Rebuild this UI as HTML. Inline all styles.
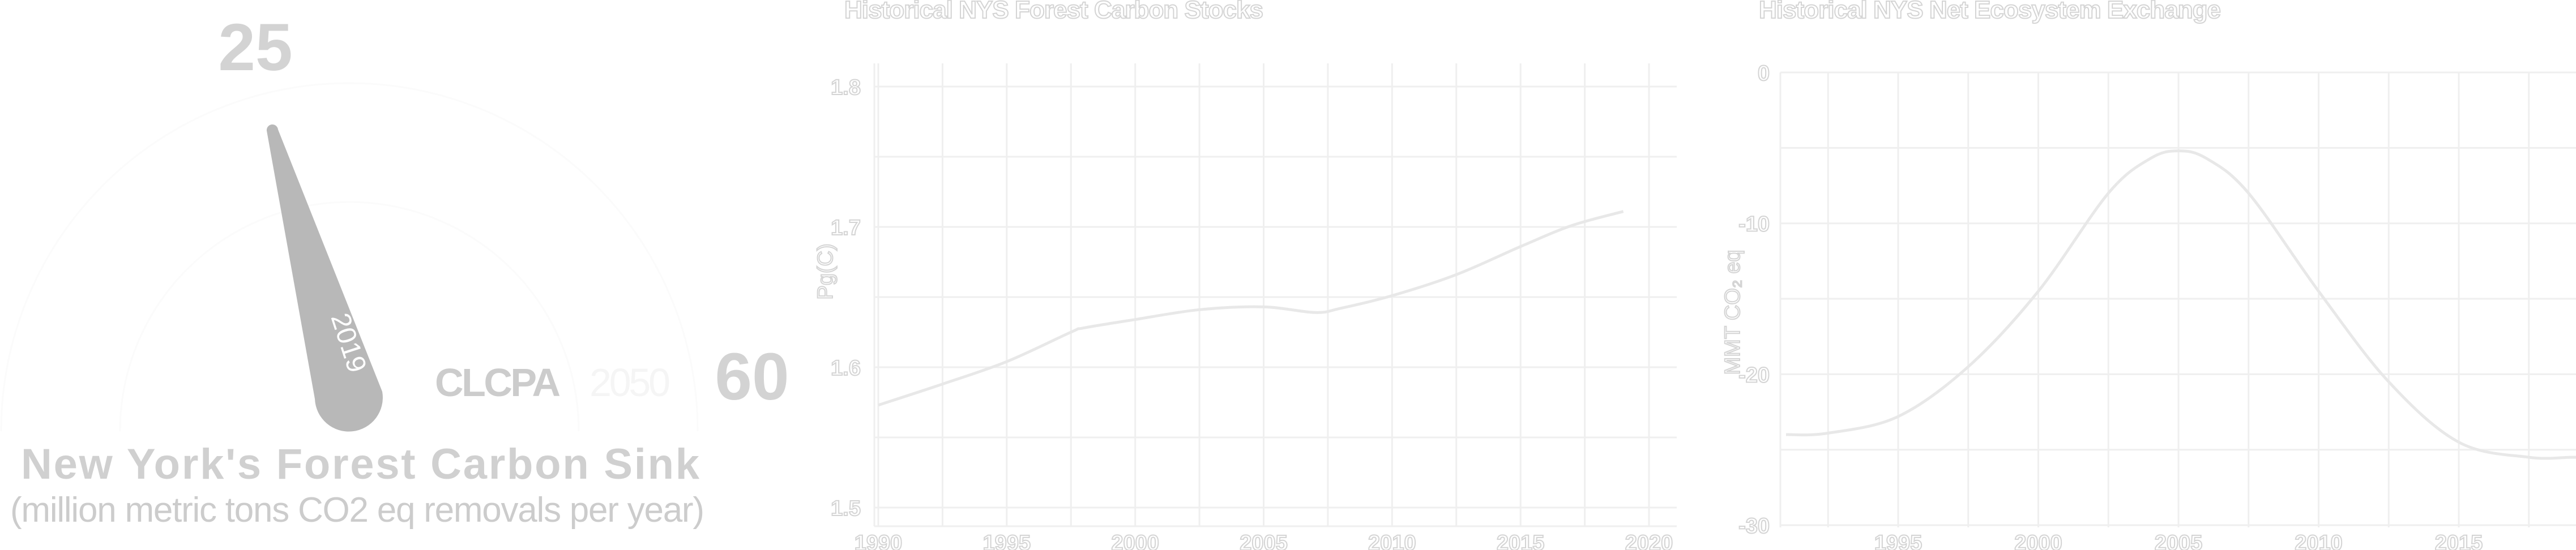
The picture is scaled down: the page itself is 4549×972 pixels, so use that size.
<!DOCTYPE html>
<html><head><meta charset="utf-8"><style>
html,body{margin:0;padding:0;background:#fff;}
svg{display:block;font-family:"Liberation Sans",sans-serif;}
.ol{fill:#fff;stroke:#d4d4d4;stroke-width:2;font-weight:bold;}
.g{stroke:#efefef;stroke-width:3;fill:none;}
.ln{stroke:#e8e8e8;stroke-width:5;fill:none;}
</style></head><body>
<svg id="root" width="4549" height="972" viewBox="0 0 4549 972">
<g>
  <path d="M2 762 A615 615 0 0 1 1232 762" stroke="#fbfbfb" stroke-width="3" fill="none"/>
  <path d="M212 762 A405 405 0 0 1 1022 762" stroke="#fbfbfb" stroke-width="3" fill="none"/>
  <text x="451" y="124" font-size="118" font-weight="bold" fill="#d3d3d3" text-anchor="middle">25</text>
  <text x="1328" y="706" font-size="118" font-weight="bold" fill="#d3d3d3" text-anchor="middle">60</text>
  <text x="768" y="700" font-size="70" font-weight="bold" fill="#cccccc" textLength="222">CLCPA</text>
  <text x="1041" y="700" font-size="70" fill="#f5f5f5" textLength="143">2050</text>
  <path id="needle" d="M471 231 A10 10 0 0 1 491 229 L675 692 A60 60 0 1 1 556 705 Z" fill="#b8b8b8"/>
  <text x="0" y="0" font-size="48" fill="#fff" transform="translate(584,560) rotate(72)">2019</text>
  <text x="636" y="846" font-size="76" font-weight="bold" fill="#d0d0d0" text-anchor="middle" textLength="1198">New York's Forest Carbon Sink</text>
  <text x="631" y="922" font-size="62" fill="#cccccc" text-anchor="middle" textLength="1226">(million metric tons CO2 eq removals per year)</text>
</g>
<g id="c1"></g>
<g id="c2"></g>
</svg>
<script>
// Chart 1 data
const stockYears = [1990,1992.5,1995,1997.5,1998,2000,2002.5,2005,2007,2008,2010,2012.5,2015,2017,2019];
const stockValues = [1.573,1.588,1.604,1.625,1.628,1.634,1.641,1.643,1.639,1.642,1.651,1.666,1.686,1.701,1.711];
const stockYTicks = [1.5,1.6,1.7,1.8];
const stockXTicks = [1990,1995,2000,2005,2010,2015,2020];
// Chart 2 data
const neeYears = [1991,1992.5,1995,1997.5,2000,2002.5,2004,2005,2006,2007.5,2010,2012.5,2015,2017.5,2019,2019.5];
const neeValues = [-24,-23.9,-22.8,-19.5,-14.5,-8,-5.7,-5.2,-5.7,-8,-14.5,-20.5,-24.5,-25.5,-25.5,-25.5];
const neeYTicks = [0,-10,-20,-30];
const neeXTicks = [1995,2000,2005,2010,2015];

const NS='http://www.w3.org/2000/svg';
function mk(parent,tag,attrs){const e=document.createElementNS(NS,tag);for(const k in attrs)e.setAttribute(k,attrs[k]);parent.appendChild(e);return e;}
function smooth(pts){let d='M'+pts[0][0]+','+pts[0][1];
  for(let i=0;i<pts.length-1;i++){const p0=pts[i-1]||pts[i],p1=pts[i],p2=pts[i+1],p3=pts[i+2]||p2;
    const c1=[p1[0]+(p2[0]-p0[0])/6,p1[1]+(p2[1]-p0[1])/6],c2=[p2[0]-(p3[0]-p1[0])/6,p2[1]-(p3[1]-p1[1])/6];
    d+=' C'+c1+' '+c2+' '+p2;}
  return d;}

// ---- chart 1
(function(){
  const g=document.getElementById('c1');
  const x=v=>1551+(v-1990)*(2912-1551)/30;
  const y=v=>897-(v-1.5)*2480;
  const L=1544,R=2961,T=112,B=930;
  const t=mk(g,'text',{x:1491,y:32,'font-size':44,class:'ol',textLength:740});
  t.textContent='Historical NYS Forest Carbon Stocks';
  
  
  for(let v=1990;v<=2020.01;v+=2.5){const l=mk(g,'line',{x1:x(v),x2:x(v),y1:T,y2:B,class:'g'});
    
    }
  for(let v=1.5;v<=1.801;v+=0.05){const l=mk(g,'line',{x1:L,x2:R,y1:y(v),y2:y(v),class:'g'});
    
    }
  mk(g,'line',{x1:L,x2:R,y1:B,y2:B,class:'g'});
  mk(g,'line',{x1:L,x2:L,y1:T,y2:B,class:'g'});
  stockYTicks.forEach(v=>{const e=mk(g,'text',{x:1520,y:y(v)+14,'font-size':38,class:'ol','text-anchor':'end'});e.textContent=v.toFixed(1);
    
    });
  stockXTicks.forEach(v=>{const e=mk(g,'text',{x:x(v),y:972,'font-size':38,class:'ol','text-anchor':'middle'});e.textContent=v;
    
    });
  const yt=mk(g,'text',{x:0,y:0,'font-size':38,fill:'#fff',stroke:'#d4d4d4','stroke-width':2,'text-anchor':'middle',transform:'translate(1470,480) rotate(-90)'});
  yt.textContent='Pg(C)';
  
  
  const p=mk(g,'path',{d:smooth(stockYears.map((v,i)=>[x(v),y(stockValues[i])])),class:'ln'});
  
  
})();

// ---- chart 2
(function(){
  const g=document.getElementById('c2');
  const x=v=>3352+(v-1995)*49.5;
  const y=v=>128-v*26.67;
  const L=3144,R=4549,T=128,B=932;
  const t=mk(g,'text',{x:3106,y:32,'font-size':44,class:'ol',textLength:816});
  t.textContent='Historical NYS Net Ecosystem Exchange';
  
  
  for(let v=1992.5;x(v)<=R;v+=2.5){const l=mk(g,'line',{x1:x(v),x2:x(v),y1:T,y2:B,class:'g'});
    
    }
  for(let v=0;v>=-30;v-=5){const l=mk(g,'line',{x1:L,x2:R,y1:y(v),y2:y(v),class:'g'});
    
    }
  mk(g,'line',{x1:L,x2:L,y1:T,y2:B,class:'g'});
  neeYTicks.forEach(v=>{const e=mk(g,'text',{x:3125,y:y(v)+14,'font-size':38,class:'ol','text-anchor':'end'});e.textContent=v;
    
    });
  neeXTicks.forEach(v=>{const e=mk(g,'text',{x:x(v),y:972,'font-size':38,class:'ol','text-anchor':'middle'});e.textContent=v;
    
    });
  const yt=mk(g,'text',{x:0,y:0,'font-size':38,fill:'#fff',stroke:'#d4d4d4','stroke-width':2,'text-anchor':'middle',transform:'translate(3072,552) rotate(-90)'});
  yt.textContent='MMT CO₂ eq';
  
  
  const p=mk(g,'path',{d:smooth(neeYears.map((v,i)=>[x(v),y(neeValues[i])])),class:'ln'});
  
  
})();
</script>
</body></html>
